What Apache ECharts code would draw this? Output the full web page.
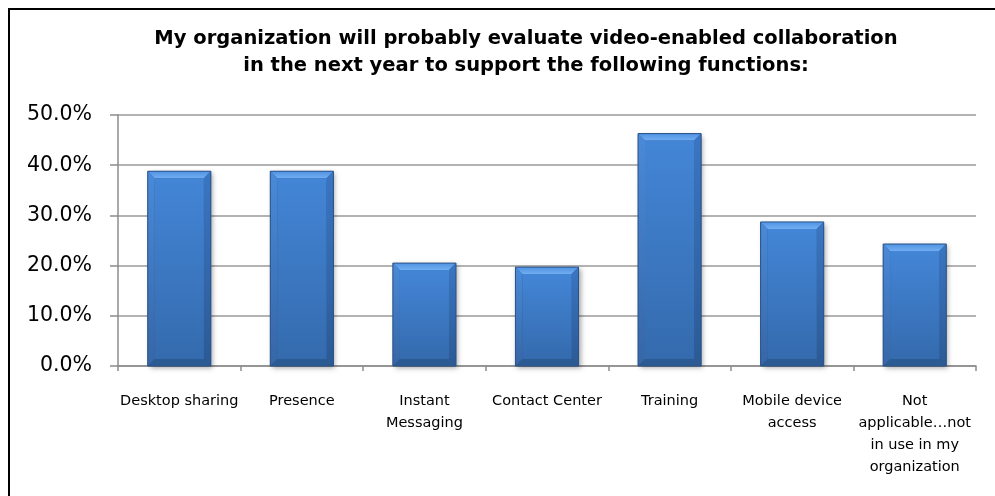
<!DOCTYPE html>
<html>
<head>
<meta charset="utf-8">
<title>Video-enabled collaboration evaluation</title>
<script src="https://cdn.jsdelivr.net/npm/echarts@6/dist/echarts.min.js"></script>
<style>
  html, body { margin: 0; padding: 0; background: #fff; }
  #chart { width: 995px; height: 496px; }
</style>
</head>
<body>
<div id="chart"></div>
<script>
// Share of respondents planning to evaluate each function (percent)
const categories = [
  'Desktop sharing',
  'Presence',
  'Instant\nMessaging',
  'Contact Center',
  'Training',
  'Mobile device\naccess',
  'Not\napplicable…not\nin use in my\norganization'
];
const shares = [38.8, 38.8, 20.5, 19.7, 46.3, 28.7, 24.3];
const yTicks = { min: 0, max: 50, interval: 10 };
const titleLines = [
  'My organization will probably evaluate video-enabled collaboration',
  'in the next year to support the following functions:'
];

const FONT = '"DejaVu Sans", sans-serif';
const chart = echarts.init(document.getElementById('chart'), null, { renderer: 'canvas' });

// Bevelled column: outer outline, four bevel facets and a gradient face
function renderBevelBar(params, api) {
  const top = api.coord([api.value(0), api.value(1)]);
  const base = api.coord([api.value(0), 0]);
  const w = api.size([1, 0])[0] * 0.515;
  const l = top[0] - w / 2, r = top[0] + w / 2, t = top[1], b = base[1];
  const bv = Math.min(7, (b - t) / 2);
  const il = l + bv, ir = r - bv, it = t + bv, ib = b - bv;
  return {
    type: 'group',
    children: [
      { type: 'rect', shape: { x: l, y: t, width: w, height: b - t },
        style: { fill: '#2d5c98', shadowBlur: 5, shadowOffsetX: 2, shadowOffsetY: 2, shadowColor: 'rgba(0,0,0,0.35)' } },
      { type: 'polygon', shape: { points: [[l, t], [r, t], [ir, it], [il, it]] },
        style: { fill: new echarts.graphic.LinearGradient(0, 0, 0, 1, [
          { offset: 0, color: '#4f93e4' }, { offset: 1, color: '#72adf0' }]) } },
      { type: 'polygon', shape: { points: [[l, t], [il, it], [il, ib], [l, b]] },
        style: { fill: new echarts.graphic.LinearGradient(0, 0, 0, 1, [
          { offset: 0, color: '#4a8ad8' }, { offset: 1, color: '#3666a6' }]) } },
      { type: 'polygon', shape: { points: [[r, t], [r, b], [ir, ib], [ir, it]] },
        style: { fill: new echarts.graphic.LinearGradient(0, 0, 0, 1, [
          { offset: 0, color: '#3a76c2' }, { offset: 1, color: '#2b5a95' }]) } },
      { type: 'polygon', shape: { points: [[l, b], [il, ib], [ir, ib], [r, b]] },
        style: { fill: '#2c5a93' } },
      { type: 'rect', shape: { x: il, y: it, width: ir - il, height: ib - it },
        style: { fill: new echarts.graphic.LinearGradient(0, 0, 0, 1, [
          { offset: 0, color: '#4385d6' }, { offset: 1, color: '#356bae' }]) } },
      { type: 'rect', shape: { x: l, y: t, width: w, height: b - t },
        style: { fill: 'none', stroke: '#2a5288', lineWidth: 1 } }
    ]
  };
}

const option = {
  backgroundColor: '#ffffff',
  animation: false,
  graphic: [
    { type: 'rect', shape: { x: 9, y: 9, width: 1100, height: 600 },
      style: { fill: 'none', stroke: '#000000', lineWidth: 2 }, silent: true },
    { type: 'text', x: 526, y: 25,
      style: { text: titleLines.join('\n'), textAlign: 'center', textVerticalAlign: 'top',
               font: 'bold 19.5px ' + FONT, lineHeight: 27, fill: '#000000' } }
  ],
  grid: { left: 118, right: 19, top: 115, bottom: 130, containLabel: false },
  xAxis: {
    type: 'category',
    data: categories,
    axisLine: { lineStyle: { color: '#8c8c8c', width: 1.5 } },
    axisTick: { show: true, length: 5, interval: 0, lineStyle: { color: '#8c8c8c', width: 1.5 } },
    axisLabel: { interval: 0, color: '#000', fontFamily: FONT, fontSize: 14.5, lineHeight: 22, margin: 24 }
  },
  yAxis: {
    type: 'value',
    min: yTicks.min, max: yTicks.max, interval: yTicks.interval,
    axisLine: { show: true, lineStyle: { color: '#8c8c8c', width: 1.5 } },
    axisTick: { show: true, length: 8, lineStyle: { color: '#8c8c8c', width: 1.5 } },
    splitLine: { lineStyle: { color: '#9a9a9a', width: 1.5 } },
    axisLabel: { color: '#000', fontFamily: FONT, fontSize: 20.5, margin: 26,
                 formatter: v => v.toFixed(1) + '%' }
  },
  series: [{
    type: 'custom',
    renderItem: renderBevelBar,
    encode: { x: 0, y: 1 },
    data: shares.map((v, i) => [i, v])
  }]
};
chart.setOption(option);
</script>
</body>
</html>
